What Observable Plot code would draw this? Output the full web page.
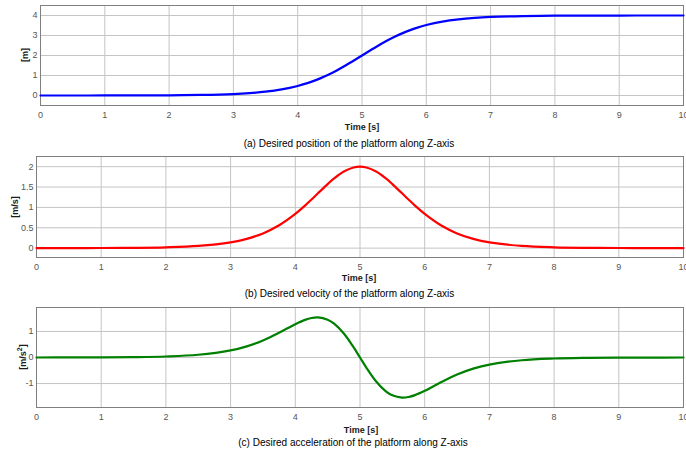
<!DOCTYPE html>
<html><head><meta charset="utf-8">
<script src="https://cdn.jsdelivr.net/npm/d3@7"></script>
<script src="https://cdn.jsdelivr.net/npm/@observablehq/plot@0.6"></script>
<style>
body{margin:0;background:#fff;font-family:"Liberation Sans",Arial,sans-serif;}
#wrap{position:relative;width:686px;height:454px;overflow:hidden;background:#fff;}
.panel{position:absolute;left:0;}
.xt{position:absolute;font:bold 9px "Liberation Sans",Arial,sans-serif;transform:translate(-50%,-50%);white-space:nowrap;color:#1a1a1a;}
.cap{position:absolute;font:10px "Liberation Sans",Arial,sans-serif;transform:translate(-50%,-50%);white-space:nowrap;color:#000;}
.yt{position:absolute;font:bold 9px "Liberation Sans",Arial,sans-serif;transform:translate(-50%,-50%) rotate(-90deg);white-space:nowrap;color:#1a1a1a;}
.yt sup{font-size:7px;}
</style>
</head><body>
<div id="wrap"></div>
<script>
// Data
const time = [0,0.5,1,1.5,2,2.5,3,3.25,3.5,3.75,4,4.15,4.25,4.35,4.5,4.6,4.75,4.9,5,5.1,5.25,5.4,5.5,5.65,5.75,5.85,6,6.25,6.5,6.75,7,7.5,8,8.5,9,9.5,10];
const position = [0.0002,0.0005,0.0013,0.0036,0.0099,0.0268,0.0719,0.1172,0.1897,0.3034,0.4768,0.6179,0.7297,0.8567,1.0758,1.2401,1.5102,1.8007,2.0,2.1993,2.4898,2.7599,2.9242,3.1433,3.2703,3.3821,3.5232,3.6966,3.8103,3.8828,3.9281,3.9732,3.9901,3.9964,3.9987,3.9995,3.9998];
const velocity = [0.0004,0.0010,0.0027,0.0073,0.0197,0.0532,0.1413,0.2276,0.3614,0.5608,0.8400,1.0448,1.1932,1.3464,1.5729,1.7113,1.8800,1.9801,2.0,1.9801,1.8800,1.7113,1.5729,1.3464,1.1932,1.0448,0.8400,0.5608,0.3614,0.2276,0.1413,0.0532,0.0197,0.0073,0.0027,0.0010,0.0004];
const acceleration = [0.0007,0.0020,0.0054,0.0145,0.0393,0.1050,0.2724,0.4286,0.6543,0.9515,1.2794,1.4441,1.5157,1.5394,1.4537,1.3004,0.9209,0.3947,0,-0.3947,-0.9209,-1.3004,-1.4537,-1.5394,-1.5157,-1.4441,-1.2794,-0.9515,-0.6543,-0.4286,-0.2724,-0.1050,-0.0393,-0.0145,-0.0054,-0.0020,-0.0007];
const xTicks = [0,1,2,3,4,5,6,7,8,9,10];
const posTicks = [0,1,2,3,4];
const velTicks = [0,0.5,1,1.5,2];
const accTicks = [-1,0,1];
const xTitle = "Time [s]";
const captions = [
  "(a) Desired position of the platform along Z-axis",
  "(b) Desired velocity of the platform along Z-axis",
  "(c) Desired acceleration of the platform along Z-axis"
];
const yTitles = ["[m]", "[m/s]", "[m/s<sup>2</sup>]"];

const wrap = document.getElementById("wrap");
const W = 686;

function panel(cfg) {
  const rows = time.map((t, i) => ({t, v: cfg.values[i]}));
  const svg = Plot.plot({
    width: W,
    height: cfg.mt + cfg.fh + 18,
    marginTop: cfg.mt,
    marginBottom: 18,
    marginLeft: cfg.ml,
    marginRight: 3,
    style: {fontFamily: "'Liberation Sans', Arial, sans-serif", fontSize: "9px", background: "transparent"},
    x: {domain: [0, 10], label: null},
    y: {domain: cfg.ydom, label: null},
    marks: [
      Plot.gridX(xTicks, {stroke: "#c4c4c4", strokeOpacity: 1}),
      Plot.gridY(cfg.yticks, {stroke: "#c4c4c4", strokeOpacity: 1}),
      Plot.frame({stroke: "#7f7f7f"}),
      Plot.axisX(xTicks, {tickSize: 0, tickPadding: 6, color: "#555", fontSize: 9, label: null}),
      Plot.axisY(cfg.yticks, {tickSize: 0, tickPadding: 3, color: "#555", fontSize: 9, label: null, tickFormat: d => String(d)}),
      Plot.line(rows, {x: "t", y: "v", stroke: cfg.color, strokeWidth: 2.2, curve: "catmull-rom"})
    ]
  });
  svg.classList.add("panel");
  svg.style.top = cfg.top + "px";
  wrap.appendChild(svg);

  const xt = document.createElement("div");
  xt.className = "xt"; xt.textContent = xTitle;
  xt.style.left = cfg.xtX + "px"; xt.style.top = cfg.xtY + "px";
  wrap.appendChild(xt);

  const cap = document.createElement("div");
  cap.className = "cap"; cap.textContent = cfg.caption;
  cap.style.left = cfg.capX + "px"; cap.style.top = cfg.capY + "px";
  wrap.appendChild(cap);

  const yt = document.createElement("div");
  yt.className = "yt"; yt.innerHTML = cfg.ytitle;
  yt.style.left = cfg.ytX + "px"; yt.style.top = cfg.ytY + "px";
  wrap.appendChild(yt);
}

panel({top: 0, mt: 5, fh: 100, ml: 40, ydom: [-0.5, 4.5], yticks: posTicks, values: position, color: "#0000ff",
  xtX: 362, xtY: 127, caption: captions[0], capX: 349, capY: 142.5, ytitle: yTitles[0], ytX: 25, ytY: 55});
panel({top: 150, mt: 6, fh: 101, ml: 36, ydom: [-0.23, 2.25], yticks: velTicks, values: velocity, color: "#ff0000",
  xtX: 359, xtY: 278, caption: captions[1], capX: 349.5, capY: 293, ytitle: yTitles[1], ytX: 15, ytY: 206.5});
panel({top: 300, mt: 7, fh: 100, ml: 36, ydom: [-1.92, 1.92], yticks: accTicks, values: acceleration, color: "#008000",
  xtX: 361, xtY: 430, caption: captions[2], capX: 353, capY: 442, ytitle: yTitles[2], ytX: 22, ytY: 357});
</script>
</body></html>
